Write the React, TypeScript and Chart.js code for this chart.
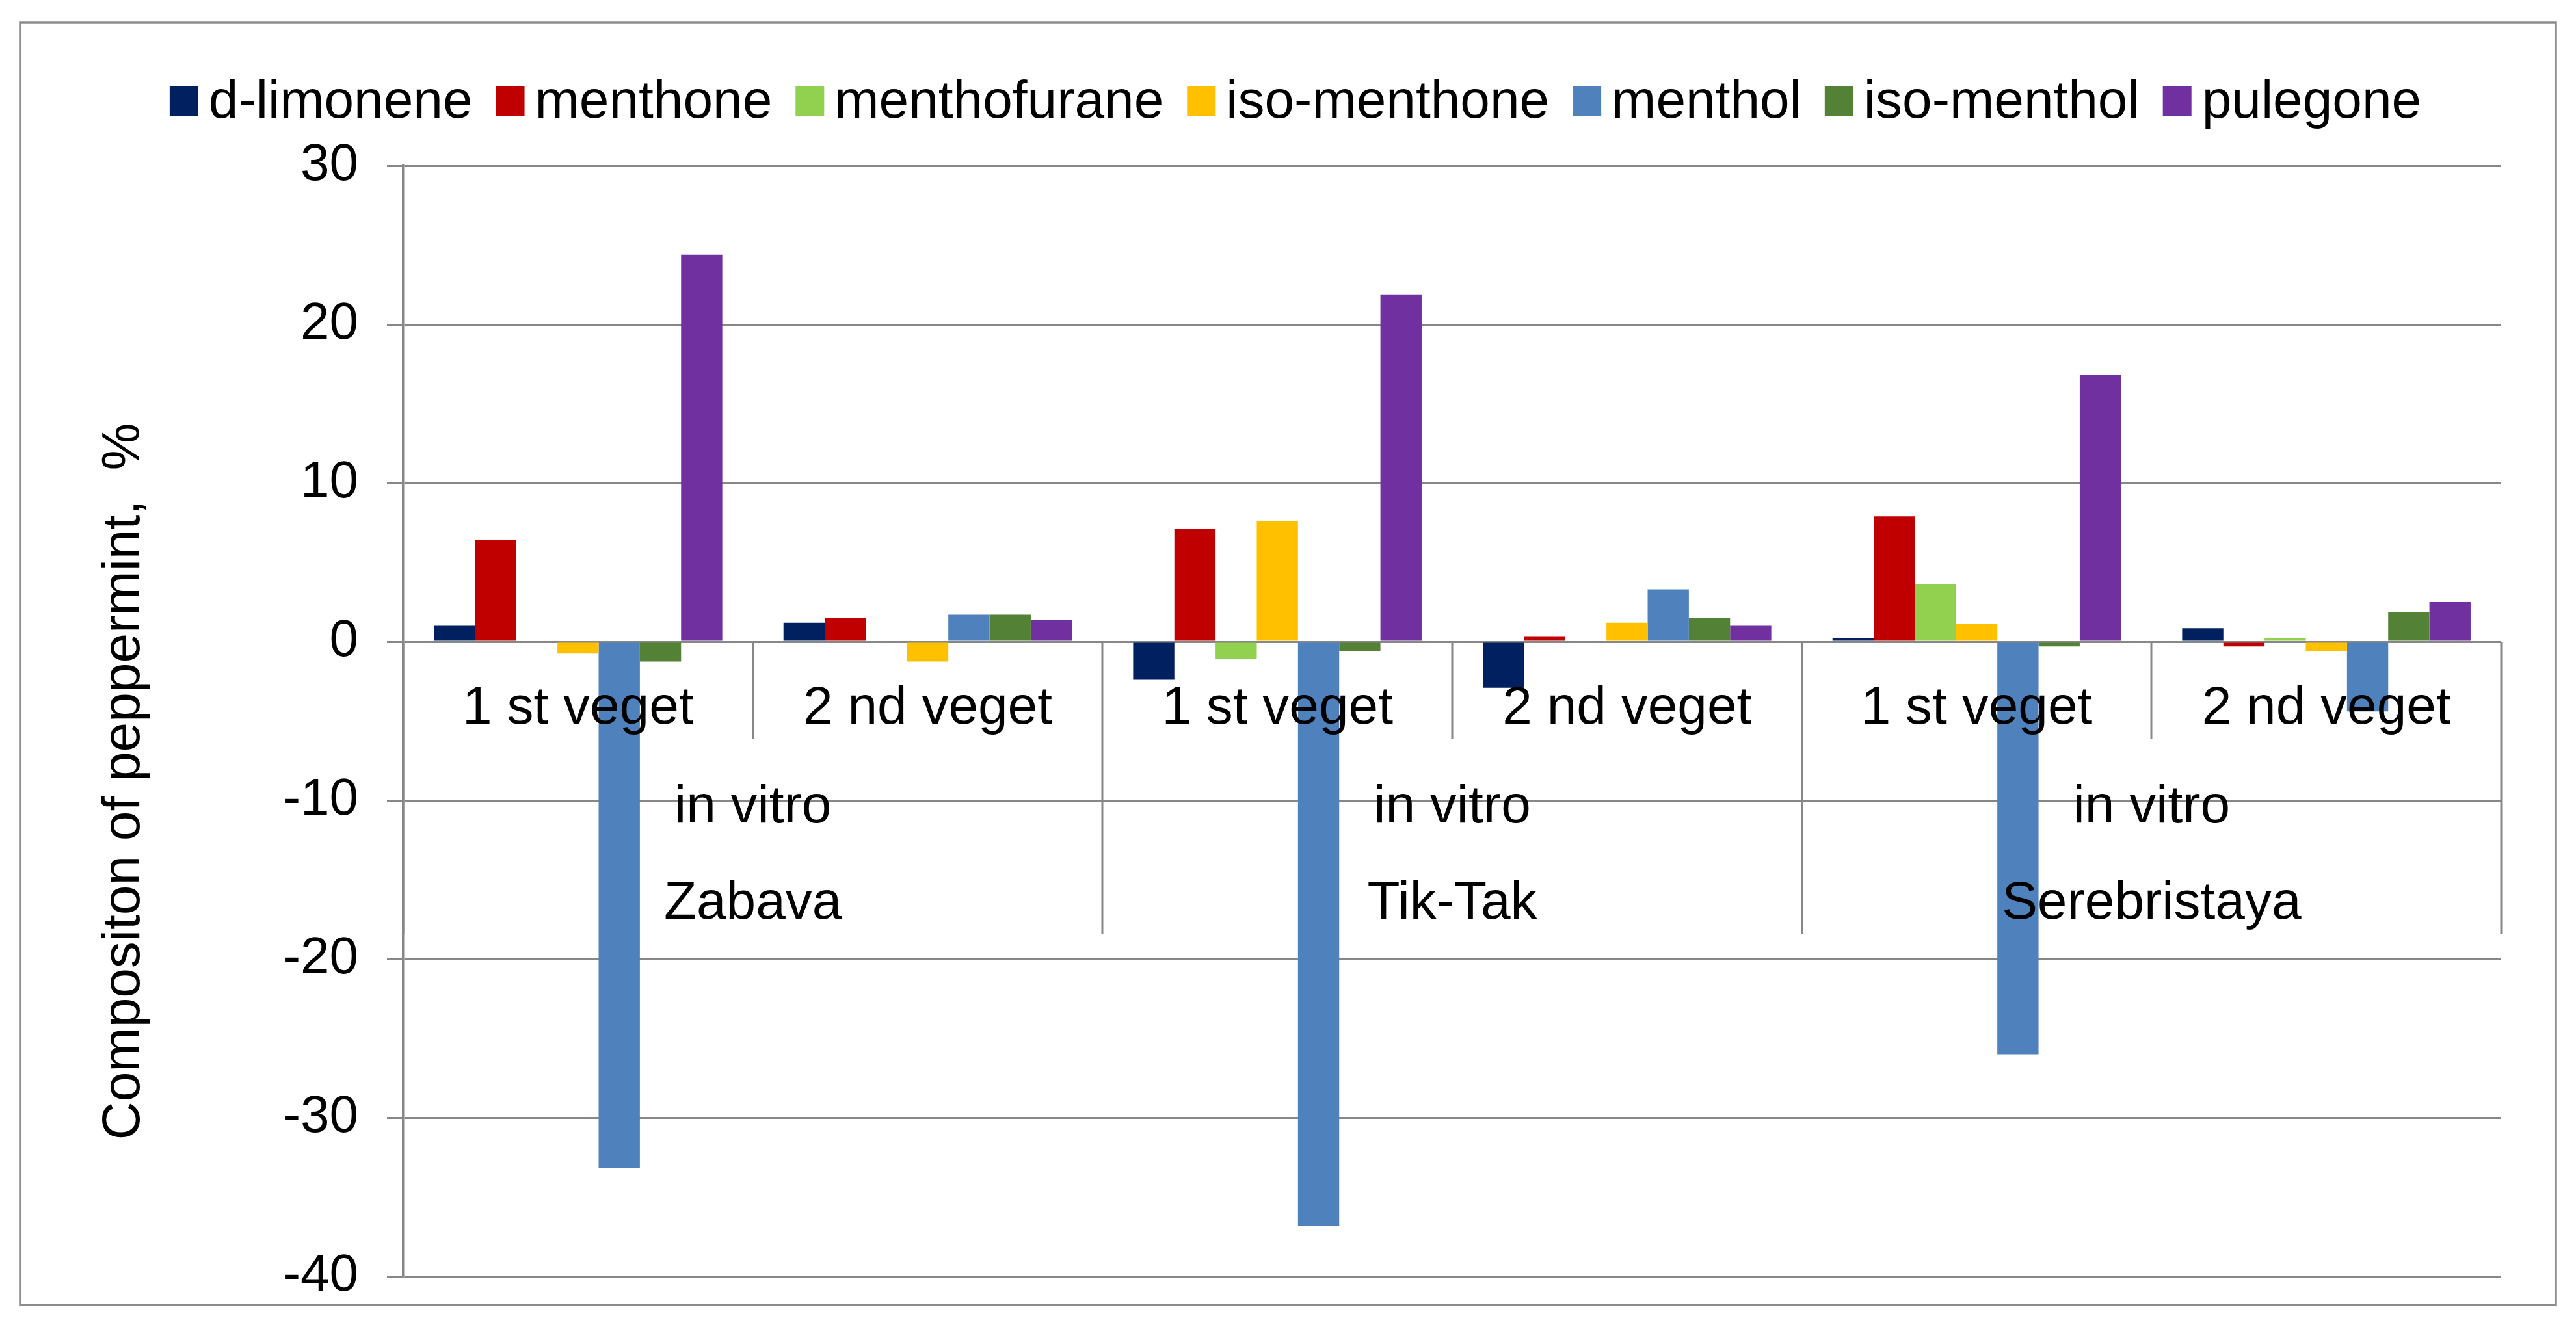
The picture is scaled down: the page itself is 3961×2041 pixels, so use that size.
import React, { useEffect, useRef } from "react";
import { Chart, registerables } from "chart.js";

Chart.register(...registerables);

// ---- data ----
const vegetLabels = ["1 st veget", "2 nd veget", "1 st veget", "2 nd veget", "1 st veget", "2 nd veget"];
const methodLabels = ["in vitro", "in vitro", "in vitro"];
const varietyLabels = ["Zabava", "Tik-Tak", "Serebristaya"];

const seriesNames = ["d-limonene", "menthone", "menthofurane", "iso-menthone", "menthol", "iso-menthol", "pulegone"];
const dLimonene = [1.0, 1.2, -2.4, -2.9, 0.2, 0.85];
const menthone = [6.4, 1.5, 7.1, 0.35, 7.9, -0.3];
const menthofurane = [0, 0, -1.1, 0, 3.65, 0.2];
const isoMenthone = [-0.75, -1.25, 7.6, 1.2, 1.15, -0.6];
const menthol = [-33.2, 1.7, -36.8, 3.3, -26.0, -4.4];
const isoMenthol = [-1.25, 1.7, -0.6, 1.5, -0.3, 1.85];
const pulegone = [24.4, 1.35, 21.9, 1.0, 16.8, 2.5];
const seriesValues = [dLimonene, menthone, menthofurane, isoMenthone, menthol, isoMenthol, pulegone];
const seriesColors = ["#002060", "#C00000", "#92D050", "#FFC000", "#4F81BD", "#538135", "#7030A0"];

const yMin = -40;
const yMax = 30;
const yStep = 10;
const yTitle = "Compositon of peppermint,  %";

// ---- styling ----
const FONT = "'Liberation Sans', Arial, sans-serif";
const GRID = "#878787";

const decorPlugin = {
  id: "decor",
  beforeDraw(chart: any) {
    const ctx = chart.ctx;
    ctx.save();
    ctx.fillStyle = "#ffffff";
    ctx.fillRect(0, 0, chart.width, chart.height);
    ctx.strokeStyle = "#8c8c8c";
    ctx.lineWidth = 3.5;
    ctx.strokeRect(31, 35, 3899, 1972);
    ctx.restore();
  },
  afterDatasetsDraw(chart: any) {
    const ctx = chart.ctx;
    const xs = chart.scales.x;
    const ys = chart.scales.y;
    const zero = ys.getPixelForValue(0);
    const n = vegetLabels.length;
    const cw = (xs.getPixelForValue(1) - xs.getPixelForValue(0));
    ctx.save();
    ctx.strokeStyle = GRID;
    ctx.lineWidth = 3;
    // separators
    for (let i = 0; i <= n; i++) {
      const x = Math.round(xs.getPixelForValue(i) - cw / 2);
      const long = i % 2 === 0;
      ctx.beginPath();
      ctx.moveTo(x, zero);
      ctx.lineTo(x, zero + (long ? 450 : 150));
      ctx.stroke();
    }
    ctx.fillStyle = "#000";
    ctx.textAlign = "center";
    ctx.textBaseline = "alphabetic";
    ctx.font = `82px ${FONT}`;
    for (let i = 0; i < n; i++) {
      ctx.fillText(vegetLabels[i], xs.getPixelForValue(i), zero + 126);
    }
    for (let g = 0; g < varietyLabels.length; g++) {
      const cx = (xs.getPixelForValue(2 * g) + xs.getPixelForValue(2 * g + 1)) / 2;
      ctx.fillText(methodLabels[g], cx, zero + 278);
      ctx.fillText(varietyLabels[g], cx, zero + 426);
    }
    ctx.restore();
  },
  afterDraw(chart: any) {
    const ctx = chart.ctx;
    ctx.save();
    // legend
    ctx.font = `82px ${FONT}`;
    ctx.textAlign = "left";
    ctx.textBaseline = "alphabetic";
    const items = chart.data.datasets.map((ds: any) => ({
      label: ds.label,
      color: ds.backgroundColor,
      w: 44 + 16 + ctx.measureText(ds.label).width,
    }));
    const gap = 36;
    const total = items.reduce((s: number, it: any) => s + it.w, 0) + gap * (items.length - 1);
    let x = 1992 - total / 2;
    for (const it of items) {
      ctx.fillStyle = it.color;
      ctx.fillRect(x, 133, 44, 45);
      ctx.fillStyle = "#000";
      ctx.fillText(it.label, x + 60, 181);
      x += it.w + gap;
    }
    // y title
    ctx.translate(214, 1202);
    ctx.rotate(-Math.PI / 2);
    ctx.textAlign = "center";
    ctx.font = `82px ${FONT}`;
    ctx.fillStyle = "#000";
    ctx.fillText(yTitle, 0, 0);
    ctx.restore();
  },
};

export default function App() {
  const ref = useRef<HTMLCanvasElement | null>(null);

  useEffect(() => {
    if (!ref.current) return;
    const chart = new Chart(ref.current, {
      type: "bar",
      data: {
        labels: vegetLabels.map((v, i) => `${v} ${varietyLabels[Math.floor(i / 2)]}`),
        datasets: seriesNames.map((name, i) => ({
          label: name,
          data: seriesValues[i],
          backgroundColor: seriesColors[i],
          borderWidth: 0,
          categoryPercentage: 0.825,
          barPercentage: 1.0,
        })),
      },
      options: {
        responsive: false,
        animation: false,
        devicePixelRatio: 1,
        layout: { padding: { left: 0, top: 255, right: 115, bottom: 78 } },
        plugins: {
          legend: { display: false },
          tooltip: { enabled: false },
          title: { display: false },
        },
        scales: {
          x: {
            display: false,
          },
          y: {
            min: yMin,
            max: yMax,
            ticks: {
              stepSize: yStep,
              color: "#000",
              font: { family: FONT, size: 80 },
              padding: 44,
            },
            grid: {
              color: GRID,
              lineWidth: 3,
              tickLength: 25,
              drawTicks: true,
            },
            border: { display: true, color: GRID, width: 3.5 },
            afterFit(scale: any) {
              scale.width = 620;
              scale.paddingTop = 0;
              scale.paddingBottom = 0;
            },
          },
        },
      },
      plugins: [decorPlugin],
    });
    return () => chart.destroy();
  }, []);

  return (
    <div style={{ position: "absolute", left: 0, top: 0, width: 3961, height: 2041, overflow: "hidden" }}>
      <canvas ref={ref} width={3961} height={2041} style={{ display: "block", width: 3961, height: 2041 }} />
    </div>
  );
}
